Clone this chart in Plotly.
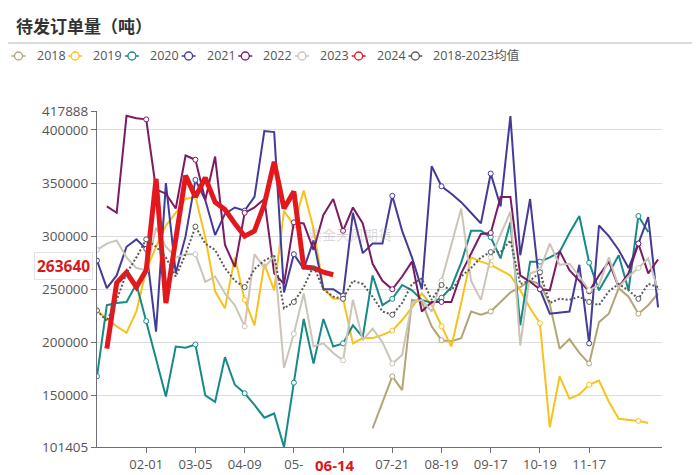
import plotly.graph_objects as go

W, H = 700, 475
ML, MR, MT, MB = 97, 38, 111, 28
PW, PH = W - ML - MR, H - MT - MB


def px(x):
    return (x - ML) / PW


def py(y):
    return (H - MB - y) / PH


# ---------------- data ----------------
categories = list(range(58))          # weekly category slots on the x axis
tick_idx = [5, 10, 15, 20, 25, 30, 35, 40, 45, 50]
# labels as visible in the reference (the 05-xx / 06-xx labels are hidden by the pointer label)
tick_labels = ["02-01", "03-05", "04-09", "05-", "",
               "07-21", "08-19", "09-17", "10-19", "11-17"]
y_ticks = [101405, 150000, 200000, 250000, 300000, 350000, 400000, 417888]

y2018 = [None] * 28 + [
    119000, None, 168000, 155000, 240000, 238000, 215000, 202000, 201000, 204000,
    229000, 226000, 229000, 238000, 247000, 252000, 258000, 255000, 236000, 194000,
    203000, 190000, 180000, 219000, 227000, 251000, 243000, 227000, 235000, 246000]

y2019 = [
    230000, 222000, 215000, 209000, 229000, 268000, 290000, 310000, 322000, 335000,
    337000, 299000, 248000, 232000, 280000, 240000, 216000, 274000, 249000, 324000,
    310000, 343000, 307000, 251000, 241000, 241000, 199000, 204000, 204000, 207000,
    211000, 221000, 233000, 246000, 235000, 215000, 196000, 237000, 280000, 276000,
    273000, 268000, 263000, 249000, 232000, 218000, 120000, 168000, 147000, 151000,
    160000, 164000, 144000, 128000, 127000, 126000, 124000, None]

y2020 = [
    168000, 235000, 237000, 238000, 255000, 220000, 184000, 149000, 196000, 195000,
    198000, 150000, 144000, 186000, 160000, 152000, 141000, 129000, 133000, 101405,
    162000, 222000, 180000, 222000, 196000, 199000, 216000, 205000, 263000, 235000,
    241000, 254000, 249000, 240000, 237000, 242000, 252000, 275000, 305000, 305000,
    299000, 279000, 313000, 216000, 276000, 276000, 280000, 285000, 303000, 319000,
    275000, 249000, 265000, 282000, 249000, 319000, 304000, None]

y2021 = [
    277000, 251000, 263000, 290000, 297000, 288000, 210000, 350000, 265000, 300000,
    353000, 334000, 301000, 321000, 327000, 324000, 337000, 399000, 398000, 247000,
    283000, 269000, 296000, 250000, 250000, 244000, 322000, 284000, 293000, 293000,
    338000, 305000, 280000, 250000, 366000, 347000, 340000, 332000, 322000, 312000,
    359000, 328000, 413000, 282000, 335000, 250000, 227000, 228000, 229000, 273000,
    199000, 310000, 300000, 287000, 270000, 293000, 318000, 233000]

y2022 = [
    None, 328000, 322000, 413500, 411000, 410000, 344000, 340000, 326000, 376000,
    372000, 334000, 375000, 292000, 271000, 322000, 327000, 335000, 265000, 255000,
    313000, 312000, 287000, 320000, 335000, 305000, 327000, 312000, 274000, 258000,
    250000, 262000, 276000, 229000, 238000, 238000, 238000, 265000, 284000, 302000,
    303000, 337000, 337000, 263000, 257000, 250000, 249000, 286000, 268000, 258000,
    248000, 263000, 276000, 252000, 265000, 293000, 265000, 278000]

y2023 = [
    287000, 293000, 296000, 280000, 270000, 268000, 308000, 290000, 280000, 283000,
    283000, 257000, 262000, 246000, 235000, 215000, 283000, 270000, 282000, 176000,
    208000, 246000, 196000, 199000, 190000, 183000, 240000, 202000, 213000, 200000,
    180000, 188000, 237000, 240000, 229000, 258000, 292000, 326000, 258000, 240000,
    280000, 302000, 323000, 197000, 265000, 268000, 293000, 273000, 274000, 262000,
    249000, 254000, 280000, 252000, 262000, 270000, 279000, 249000]

y2024 = [
    None, 194000, 256000, 266000, 252000, 268000, 354000, 237000, 295000, 357000,
    337000, 355000, 332000, 325000, 312000, 300000, 305000, 330000, 370000, 326000,
    342000, 271000, 270000, 266000, 263640] + [None] * 33

y_avg = [
    230000, 220000, 240000, 265000, 280000, 297000, 290000, 280000, 262000, 283000,
    309000, 293000, 287000, 270000, 258000, 252000, 269000, 277000, 282000, 232000,
    238000, 252000, 272000, 250000, 243000, 241000, 258000, 255000, 243000, 229000,
    226000, 237000, 255000, 260000, 240000, 254000, 249000, 262000, 270000, 280000,
    285000, 285000, 296000, 255000, 258000, 266000, 237000, 241000, 240000, 243000,
    238000, 235000, 248000, 255000, 249000, 241000, 255000, 252000]

series_names = ["2018", "2019", "2020", "2021", "2022", "2023", "2024", "2018-2023均值"]
series_values = [y2018, y2019, y2020, y2021, y2022, y2023, y2024, y_avg]
colors = ["#B2A677", "#F8C21C", "#178A87", "#433B98", "#7A1B64", "#CCC4B6", "#E2181D", "#595959"]
widths = [2, 2, 2, 2, 2, 2, 5, 2]
dashes = ["solid"] * 7 + ["2px,2px"]
with_symbols = [True, True, True, True, True, True, False, True]

last_label_x = "06-14"
last_value = 263640
last_idx = 24

FONT = "Open Sans, Noto Sans CJK SC, sans-serif"

fig = go.Figure()

for name, vals, col, lw, dash, sym in zip(series_names, series_values, colors, widths, dashes, with_symbols):
    fig.add_trace(go.Scatter(
        x=categories, y=vals, mode="lines", name=name, showlegend=False,
        connectgaps=True, line=dict(color=col, width=lw, dash=dash),
        hoverinfo="skip"))
    if sym:
        sx = [c for c, v in zip(categories, vals) if v is not None and c % 5 == 0]
        sy = [v for c, v in zip(categories, vals) if v is not None and c % 5 == 0]
        fig.add_trace(go.Scatter(
            x=sx, y=sy, mode="markers", showlegend=False, hoverinfo="skip",
            marker=dict(symbol="circle", size=5, color="white",
                        line=dict(color=col, width=1))))

shapes = []
annotations = []

# title + separator
annotations.append(dict(text="<b>待发订单量（吨）</b>", xref="paper", yref="paper",
                        x=px(14), y=py(25), xanchor="left", yanchor="middle",
                        showarrow=False, font=dict(size=17, color="#333333",
                                                   family="Noto Sans CJK SC")))
shapes.append(dict(type="line", xref="paper", yref="paper", x0=px(8), x1=px(692),
                   y0=py(43), y1=py(43), line=dict(color="#CFCFCF", width=1.5)))

# legend (line + hollow circle icon, text)
for i, (name, col) in enumerate(zip(series_names, colors)):
    cx = 18.5 + 56.7 * i
    cy = 56
    shapes.append(dict(type="line", xref="paper", yref="paper",
                       x0=px(cx - 7), x1=px(cx + 7), y0=py(cy), y1=py(cy),
                       line=dict(color=col, width=1.5)))
    shapes.append(dict(type="circle", xref="paper", yref="paper",
                       x0=px(cx - 4), x1=px(cx + 4), y0=py(cy - 4), y1=py(cy + 4),
                       fillcolor="white", line=dict(color=col, width=1.3)))
    annotations.append(dict(text=name, xref="paper", yref="paper",
                            x=px(cx + 16), y=py(cy), xanchor="left", yanchor="middle",
                            showarrow=False, font=dict(size=12.5, color="#555555", family=FONT)))

# watermark
annotations.append(dict(text="紫金天风期货", xref="paper", yref="paper",
                        x=px(350), y=py(234), showarrow=False,
                        font=dict(size=14, color="rgba(150,150,150,0.35)",
                                  family="Noto Sans CJK SC")))

# axis-pointer labels
annotations.append(dict(text="<b>%s</b>" % last_label_x, xref="x", yref="paper",
                        x=last_idx, y=0, yanchor="top", xshift=2, yshift=-6,
                        showarrow=False,
                        font=dict(size=15, color="#D7191C", family=FONT)))
annotations.append(dict(text="<b>%d</b>" % last_value, xref="paper", yref="paper",
                        x=0, y=py(266), xanchor="right", yanchor="middle", xshift=-4,
                        showarrow=False, bgcolor="white", bordercolor="#E3E3E3",
                        borderwidth=1, borderpad=2,
                        font=dict(size=15.5, color="#D7191C", family=FONT)))

fig.update_layout(
    width=W, height=H,
    margin=dict(l=ML, r=MR, t=MT, b=MB, autoexpand=False),
    paper_bgcolor="white", plot_bgcolor="white",
    showlegend=False,
    shapes=shapes, annotations=annotations,
    font=dict(family=FONT),
)
fig.update_xaxes(
    range=[0, 57.4], tickmode="array", tickvals=tick_idx, ticktext=tick_labels,
    showgrid=False, zeroline=False, showline=True, linecolor="#6E7079", linewidth=1,
    ticks="outside", ticklen=5, tickcolor="#6E7079",
    tickfont=dict(size=13, color="#555555", family=FONT),
)
fig.update_yaxes(
    range=[101405, 417888], tickmode="array", tickvals=y_ticks,
    ticktext=[str(v) for v in y_ticks],
    showgrid=True, gridcolor="#DCDCDC", gridwidth=1, zeroline=False,
    showline=True, linecolor="#6E7079", linewidth=1,
    ticks="outside", ticklen=5, tickcolor="#6E7079",
    tickfont=dict(size=13.5, color="#555555", family=FONT),
)

fig.write_html("out.html")
